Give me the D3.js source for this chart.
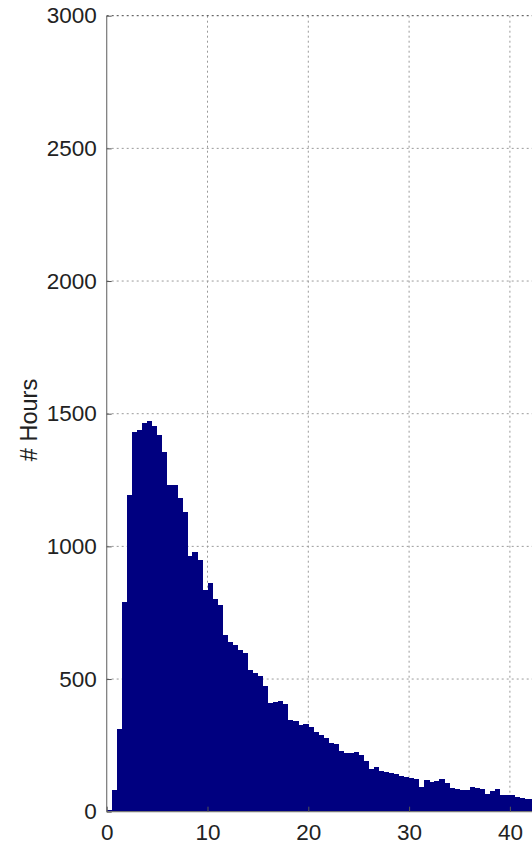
<!DOCTYPE html>
<html>
<head>
<meta charset="utf-8">
<script src="https://cdn.jsdelivr.net/npm/d3@7"></script>
<style>
  html, body { margin: 0; padding: 0; background: #fff; }
  svg { display: block; }
  text { font-family: "Liberation Sans", Arial, Helvetica, sans-serif; fill: #222; }
</style>
</head>
<body>
<div id="chart"></div>
<script>
// ---- data ----
const binWidth = 0.5;
const counts = [
  8, 80, 310, 790, 1195, 1432, 1437, 1464, 1472, 1453,
  1420, 1355, 1232, 1232, 1182, 1129, 962, 977, 949, 836,
  861, 800, 778, 666, 638, 630, 608, 600, 534, 522,
  512, 475, 410, 412, 418, 405, 345, 343, 327, 330,
  318, 300, 290, 277, 260, 256, 228, 222, 220, 224,
  212, 190, 162, 170, 155, 150, 147, 141, 136, 132,
  126, 123, 94, 120, 113, 115, 122, 107, 91, 86,
  80, 80, 92, 90, 84, 67, 77, 84, 63, 63,
  62, 57, 53, 49, 47
];
const xTicks = [0, 10, 20, 30, 40];
const yTicks = [0, 500, 1000, 1500, 2000, 2500, 3000];
const yLabel = "# Hours";

// ---- layout ----
const W = 532, H = 847;
const x0 = 106.7, pxPerUnit = 10.08;
const x = d3.scaleLinear().domain([0, 50]).range([x0, x0 + 50 * pxPerUnit]);
const y = d3.scaleLinear().domain([0, 3000]).range([811.7, 15.7]);

const svg = d3.select("#chart").append("svg")
  .attr("width", W).attr("height", H);

const bins = counts.map((c, i) => ({ x0: i * binWidth, x1: (i + 1) * binWidth, c }));

// grid
const grid = svg.append("g");
grid.selectAll("line.vg").data(xTicks.filter(t => t > 0)).enter().append("line")
  .attr("x1", d => x(d)).attr("x2", d => x(d))
  .attr("y1", y(3000)).attr("y2", y(0))
  .attr("stroke", "#9a9a9a").attr("stroke-width", 1)
  .attr("stroke-dasharray", "2,3");
grid.selectAll("line.hg").data(yTicks.filter(t => t > 0)).enter().append("line")
  .attr("x1", x(0)).attr("x2", W)
  .attr("y1", d => y(d)).attr("y2", d => y(d))
  .attr("stroke", d => d === 3000 ? "#444" : "#9a9a9a").attr("stroke-width", 1)
  .attr("stroke-dasharray", "2,3");

// bars
svg.append("g").selectAll("rect").data(bins).enter().append("rect")
  .attr("x", d => x(d.x0))
  .attr("width", d => x(d.x1) - x(d.x0) + 0.3)
  .attr("y", d => y(d.c))
  .attr("height", d => y(0) - y(d.c))
  .attr("fill", "#000080")
  .attr("shape-rendering", "crispEdges");

// axes
const yAxis = d3.axisLeft(y).tickValues(yTicks).tickSize(-5).tickPadding(10).tickFormat(d3.format("d"));
const xAxis = d3.axisBottom(x).tickValues(xTicks).tickSize(-5).tickPadding(12).tickFormat(d3.format("d"));

const gy = svg.append("g").attr("transform", `translate(${x0},0)`).call(yAxis);
const gx = svg.append("g").attr("transform", `translate(0,${y(0)})`).call(xAxis);

[gy, gx].forEach(g => {
  g.select(".domain").attr("stroke", "#777").attr("stroke-width", 1.2);
  g.selectAll(".tick line").attr("stroke", "#555");
  g.selectAll(".tick text").attr("font-size", 22.5).attr("fill", "#222")
    .style("font-family", "'Liberation Sans', Arial, sans-serif");
});
gy.select(".domain").attr("d", `M0,${y(3000)}V${y(0)}`);
gx.select(".domain").attr("d", `M${x0},0H${W + 10}`);

// y label
svg.append("text")
  .attr("transform", `translate(37,420) rotate(-90)`)
  .attr("text-anchor", "middle")
  .attr("font-size", 23.5)
  .text(yLabel);
</script>
</body>
</html>
